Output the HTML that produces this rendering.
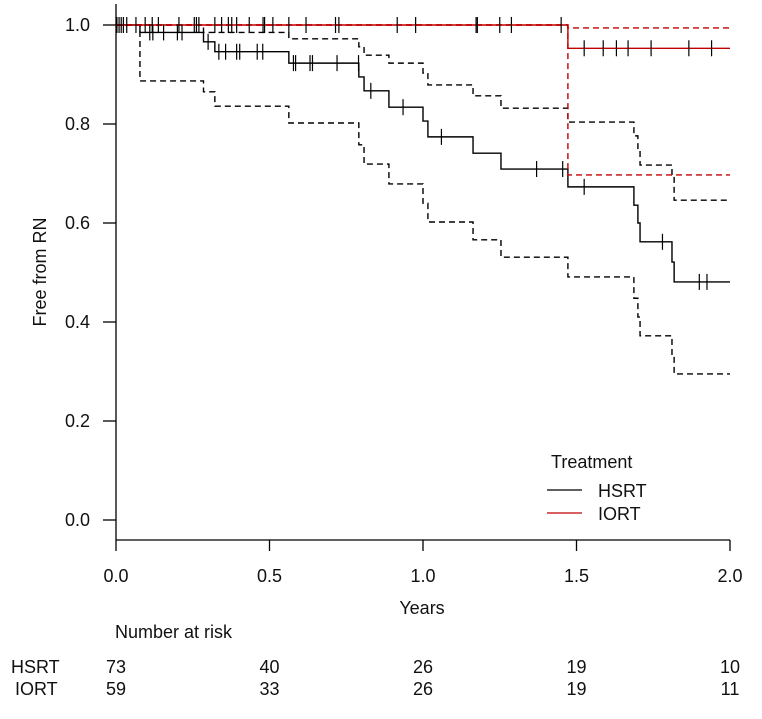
<!DOCTYPE html>
<html><head><meta charset="utf-8"><style>
body{margin:0;background:#fff}
svg text{font-family:"Liberation Sans",Arial,sans-serif;font-size:18px;fill:#111}
</style></head><body>
<svg id="chart" width="762" height="714" viewBox="0 0 762 714" xmlns="http://www.w3.org/2000/svg">
<g id="axes"></g>
<g id="marks"></g>
<text x="46" y="272" text-anchor="middle" transform="rotate(-90 46 272)">Free from RN</text>
<text x="422" y="614" text-anchor="middle">Years</text>
<g>
<text x="551" y="468">Treatment</text>
<line x1="547" x2="582" y1="490" y2="490" stroke="#000" stroke-width="1.3"/>
<text x="598" y="497">HSRT</text>
<line x1="547" x2="582" y1="513" y2="513" stroke="#c00000" stroke-width="1.3"/>
<text x="598" y="520">IORT</text>
</g>
<text x="115" y="638">Number at risk</text>
<g id="risk"></g>
</svg>
<script>
const xTicks=[0,0.5,1.0,1.5,2.0];
const yTicks=[0,0.2,0.4,0.6,0.8,1.0];
const riskGroups=["HSRT","IORT"];
const riskHSRT=[73,40,26,19,10];
const riskIORT=[59,33,26,19,11];
// HSRT survival: step times and values
const hsrtTimes=[0,0.078,0.285,0.322,0.563,0.791,0.808,0.889,1.0,1.016,1.163,1.254,1.472,1.687,1.700,1.707,1.811,1.818,2.0];
const hsrtSurv=[1,0.985,0.966,0.946,0.923,0.895,0.867,0.834,0.806,0.774,0.741,0.709,0.673,0.636,0.600,0.562,0.521,0.481,0.481];
const hsrtUpper=[1,1,0.985,0.985,0.972,0.956,0.939,0.923,0.903,0.879,0.857,0.832,0.804,0.776,0.747,0.717,0.697,0.646,0.646];
const hsrtLower=[1,0.887,0.865,0.836,0.802,0.758,0.719,0.679,0.640,0.602,0.566,0.531,0.491,0.448,0.410,0.372,0.333,0.295,0.295];
const iortTimes=[0,1.472,2.0];
const iortSurv=[1,0.953,0.953];
const iortUpper=[1,0.994,0.994];
const iortLower=[1,0.697,0.697];
const censorTop=[0.003,0.01,0.017,0.024,0.035,0.065,0.095,0.118,0.138,0.205,0.255,0.262,0.27,0.322,0.344,0.366,0.377,0.393,0.434,0.479,0.484,0.511,0.563,0.619,0.715,0.726,0.916,0.976,1.173,1.177,1.25,1.288,1.45];
const hsrtCensT=[0.11,0.12,0.155,0.2,0.215,0.3,0.335,0.357,0.393,0.403,0.46,0.478,0.578,0.585,0.632,0.64,0.72,0.79,0.83,0.935,1.06,1.37,1.455,1.525,1.78,1.9,1.925];
const iortCensT=[1.525,1.587,1.63,1.668,1.743,1.866,1.94];

const X=t=>116+t*307, Y=v=>520-v*495;
const NS="http://www.w3.org/2000/svg";
function mk(tag,attrs,parent){const e=document.createElementNS(NS,tag);for(const k in attrs)e.setAttribute(k,attrs[k]);parent.appendChild(e);return e;}
const axes=document.getElementById('axes'),marks=document.getElementById('marks'),risk=document.getElementById('risk');
let e=mk('line',{x1:116,x2:116,y1:4,y2:540,stroke:'#000','stroke-width':1.3},axes);


e=mk('line',{x1:116,x2:730,y1:540,y2:540,stroke:'#000','stroke-width':1.3},axes);


yTicks.forEach(v=>{
 let l=mk('line',{x1:103,x2:116,y1:Y(v),y2:Y(v),stroke:'#000','stroke-width':1.3},axes);
 
 
 let t=mk('text',{x:90,y:Y(v)+6,'text-anchor':'end'},axes);t.textContent=v.toFixed(1);
 
 
});
xTicks.forEach((v,i)=>{
 let l=mk('line',{x1:X(v),x2:X(v),y1:540,y2:551,stroke:'#000','stroke-width':1.3},axes);
 
 
 let t=mk('text',{x:X(v),y:582,'text-anchor':'middle'},axes);t.textContent=v.toFixed(1);
 
 
 let a=mk('text',{x:X(v),y:673,'text-anchor':'middle'},risk);a.textContent=riskHSRT[i];
 
 
 let b=mk('text',{x:X(v),y:695,'text-anchor':'middle'},risk);b.textContent=riskIORT[i];
 
 
});
riskGroups.forEach((g,i)=>{
 let t=mk('text',{x:i?15:11,y:673+22*i},risk);t.textContent=g;
 
 
});
function step(ts,vs){let d='M'+X(ts[0])+','+Y(vs[0]);for(let i=1;i<ts.length;i++){d+=' H'+X(ts[i])+' V'+Y(vs[i]);}return d;}
function curve(ts,vs,col,dash,name){
 const p=mk('path',{d:step(ts,vs),fill:'none',stroke:col,'stroke-width':1.4},marks);
 if(dash)p.setAttribute('stroke-dasharray','6,4');
 
 
}
curve(hsrtTimes,hsrtUpper,'#000',true,'hsrt-ci-upper');
curve(hsrtTimes,hsrtLower,'#000',true,'hsrt-ci-lower');
curve(hsrtTimes,hsrtSurv,'#000',false,'hsrt-curve');
curve(iortTimes,iortUpper,'#c00000',true,'iort-ci-upper');
curve(iortTimes,iortLower,'#c00000',true,'iort-ci-lower');
curve(iortTimes,iortSurv,'#c00000',false,'iort-curve');
function survAt(ts,vs,t){let v=vs[0];for(let i=0;i<ts.length;i++){if(ts[i]<=t)v=vs[i];}return v;}
function cens(t,v,name){
 const l=mk('line',{x1:X(t),x2:X(t),y1:Y(v)-8,y2:Y(v)+8,stroke:'#000','stroke-width':1.2},marks);
 
 
}
censorTop.forEach(t=>cens(t,1,'censor-mark-top'));
hsrtCensT.forEach(t=>cens(t,survAt(hsrtTimes,hsrtSurv,t),'hsrt-censor-mark'));
iortCensT.forEach(t=>cens(t,survAt(iortTimes,iortSurv,t),'iort-censor-mark'));
</script>
</body></html>
